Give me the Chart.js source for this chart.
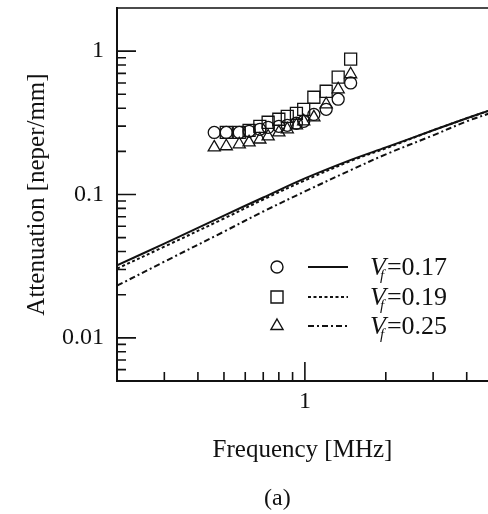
<!DOCTYPE html>
<html>
<head>
<meta charset="utf-8">
<script src="https://cdn.jsdelivr.net/npm/chart.js@4.4.0/dist/chart.umd.min.js"></script>
<style>
  body { margin: 0; background: #fff; }
  #wrap { position: relative; width: 488px; height: 514px; }
  #cap { position: absolute; left: 264px; top: 484px; font: 24px "Liberation Serif", serif; color: #111; }
</style>
</head>
<body>
<div id="wrap">
  <canvas id="myChart" width="488" height="514"></canvas>
  <div id="cap">(a)</div>
</div>
<script>
// measured points (MHz, neper/mm)
var freqCircle = [0.46, 0.51, 0.57, 0.62, 0.68, 0.73, 0.80, 0.86, 0.93, 0.99, 1.08, 1.20, 1.33, 1.48];
var attCircle = [0.271, 0.271, 0.271, 0.276, 0.285, 0.294, 0.299, 0.304, 0.314, 0.324, 0.362, 0.393, 0.462, 0.60];
var freqSquare = [0.51, 0.57, 0.62, 0.68, 0.73, 0.80, 0.86, 0.93, 0.99, 1.08, 1.20, 1.33, 1.48];
var attSquare = [0.271, 0.271, 0.280, 0.299, 0.319, 0.335, 0.351, 0.368, 0.393, 0.477, 0.525, 0.658, 0.879];
var freqTriangle = [0.46, 0.51, 0.57, 0.62, 0.68, 0.73, 0.80, 0.86, 0.93, 0.99, 1.08, 1.20, 1.33, 1.48];
var attTriangle = [0.213, 0.217, 0.224, 0.231, 0.242, 0.254, 0.271, 0.285, 0.304, 0.324, 0.345, 0.426, 0.542, 0.690];

// model curves
var freqModel = [0.2, 0.3, 0.5, 0.7, 1, 1.5, 2, 3, 4, 5];
var model017 = [0.0321, 0.0454, 0.0713, 0.0953, 0.1294, 0.1757, 0.213, 0.2805, 0.340, 0.393];
var model019 = [0.0304, 0.0433, 0.0680, 0.0923, 0.1253, 0.173, 0.210, 0.2805, 0.340, 0.393];
var model025 = [0.0231, 0.034, 0.0551, 0.0761, 0.105, 0.1496, 0.1905, 0.2587, 0.324, 0.3745];

var vfLabels = ["0.17", "0.19", "0.25"];
var xTickLabels = [1];
var yTickLabels = [0.01, 0.1, 1];

var ink = "#111";
var serif = "'Liberation Serif', 'Times New Roman', serif";

function pts(xs, ys) {
    return xs.map(function (x, i) { return { x: x, y: ys[i] }; });
}
function tidy(v) { return Number(v.toPrecision(6)); }

// every 1..9 x 10^n value inside a log scale's range
function logSteps(scale) {
    var out = [];
    var e0 = Math.floor(Math.log10(scale.min)), e1 = Math.ceil(Math.log10(scale.max));
    for (var e = e0; e <= e1; e++) {
        for (var m = 1; m <= 9; m++) {
            var v = tidy(m * Math.pow(10, e));
            if (v > scale.min * 1.0001 && v < scale.max * 0.9999) out.push({ v: v, major: m === 1 });
        }
    }
    return out;
}

var markerStyles = [
    { pointStyle: "circle", radius: 6 },
    { pointStyle: "rect", radius: 8.5 },
    { pointStyle: "triangle", radius: 7 }
];
var lineDashes = [[], [3, 2.5], [6, 3, 2, 3]];

// ticks pointing inwards + top frame line
var frameTicks = {
    id: "frameTicks",
    afterDraw: function (chart) {
        var ctx = chart.ctx, a = chart.chartArea;
        var xs = chart.scales.x, ys = chart.scales.y;
        ctx.save();
        ctx.strokeStyle = ink;
        ctx.lineWidth = 1.6;
        ctx.beginPath();
        ctx.moveTo(a.left - 1, a.top);
        ctx.lineTo(a.right, a.top);
        logSteps(xs).forEach(function (t) {
            var p = xs.getPixelForValue(t.v);
            ctx.moveTo(p, a.bottom);
            ctx.lineTo(p, a.bottom - (t.major ? 19 : 9));
        });
        logSteps(ys).forEach(function (t) {
            var p = ys.getPixelForValue(t.v);
            ctx.moveTo(a.left, p);
            ctx.lineTo(a.left + (t.major ? 19 : 9), p);
        });
        ctx.stroke();
        ctx.restore();
    }
};

// legend: marker, line sample, V_f label
var vfLegend = {
    id: "vfLegend",
    afterDatasetsDraw: function (chart) {
        var ctx = chart.ctx;
        var rowY = [267, 297, 326];
        ctx.save();
        vfLabels.forEach(function (lab, i) {
            var y = rowY[i];
            ctx.strokeStyle = ink;
            ctx.fillStyle = "rgba(0,0,0,0)";
            ctx.lineWidth = 1.4;
            Chart.helpers.drawPoint(ctx, {
                pointStyle: markerStyles[i].pointStyle,
                radius: markerStyles[i].radius,
                borderWidth: 1.4,
                rotation: 0
            }, 277, y);
            ctx.beginPath();
            ctx.lineWidth = 2;
            ctx.setLineDash(lineDashes[i]);
            ctx.moveTo(308, y);
            ctx.lineTo(348, y);
            ctx.stroke();
            ctx.setLineDash([]);

            ctx.fillStyle = ink;
            ctx.textBaseline = "alphabetic";
            ctx.textAlign = "left";
            ctx.font = "italic 26px " + serif;
            ctx.fillText("V", 370, y + 8);
            var w = ctx.measureText("V").width;
            ctx.font = "italic 15px " + serif;
            ctx.fillText("f", 370 + w - 6, y + 13);
            ctx.font = "26px " + serif;
            ctx.fillText("=" + lab, 370 + w + 1, y + 8);
        });
        ctx.restore();
    }
};

function markerSet(xs, ys, i) {
    return {
        data: pts(xs, ys),
        showLine: false,
        pointStyle: markerStyles[i].pointStyle,
        pointRadius: markerStyles[i].radius,
        pointBorderWidth: 1.3,
        pointBorderColor: ink,
        pointBackgroundColor: "rgba(0,0,0,0)",
        order: 1
    };
}
function modelSet(ys, i) {
    return {
        data: pts(freqModel, ys),
        borderColor: ink,
        borderWidth: 2,
        borderDash: lineDashes[i],
        pointRadius: 0,
        tension: 0.35,
        fill: false,
        order: 2
    };
}

new Chart("myChart", {
    type: "line",
    data: {
        datasets: [
            modelSet(model017, 0),
            modelSet(model019, 1),
            modelSet(model025, 2),
            markerSet(freqCircle, attCircle, 0),
            markerSet(freqSquare, attSquare, 1),
            markerSet(freqTriangle, attTriangle, 2)
        ]
    },
    options: {
        responsive: false,
        animation: false,
        layout: { autoPadding: false, padding: { top: 8, left: 0, right: 0, bottom: 0 } },
        plugins: { legend: { display: false }, tooltip: { enabled: false } },
        scales: {
            x: {
                type: "logarithmic",
                min: 0.2,
                max: 4.8,
                grid: { display: false, drawTicks: false },
                border: { display: true, color: ink, width: 2 },
                ticks: {
                    autoSkip: false, maxRotation: 0, padding: 6, color: ink,
                    font: { family: serif, size: 24 },
                    callback: function (v) {
                        var n = tidy(v);
                        return xTickLabels.indexOf(n) >= 0 ? String(n) : "";
                    }
                },
                title: {
                    display: true, text: "Frequency [MHz]", color: ink,
                    font: { family: serif, size: 25 },
                    padding: { top: 0, bottom: 49 }
                },
                afterFit: function (s) {
                    s.height = 133;
                    s.paddingLeft = 0;
                    s.paddingRight = 0;
                }
            },
            y: {
                type: "logarithmic",
                min: 0.005,
                max: 2,
                grid: { display: false, drawTicks: false },
                border: { display: true, color: ink, width: 2 },
                ticks: {
                    autoSkip: false, padding: 13, color: ink,
                    font: { family: serif, size: 24 },
                    callback: function (v) {
                        var n = tidy(v);
                        return yTickLabels.indexOf(n) >= 0 ? String(n) : "";
                    }
                },
                title: {
                    display: true, text: "Attenuation [neper/mm]", color: ink,
                    font: { family: serif, size: 25 },
                    padding: { top: 22, bottom: 0 }
                },
                afterFit: function (s) {
                    s.width = 117;
                    s.paddingTop = 0;
                    s.paddingBottom = 0;
                }
            }
        }
    },
    plugins: [frameTicks, vfLegend]
});
</script>
</body>
</html>
